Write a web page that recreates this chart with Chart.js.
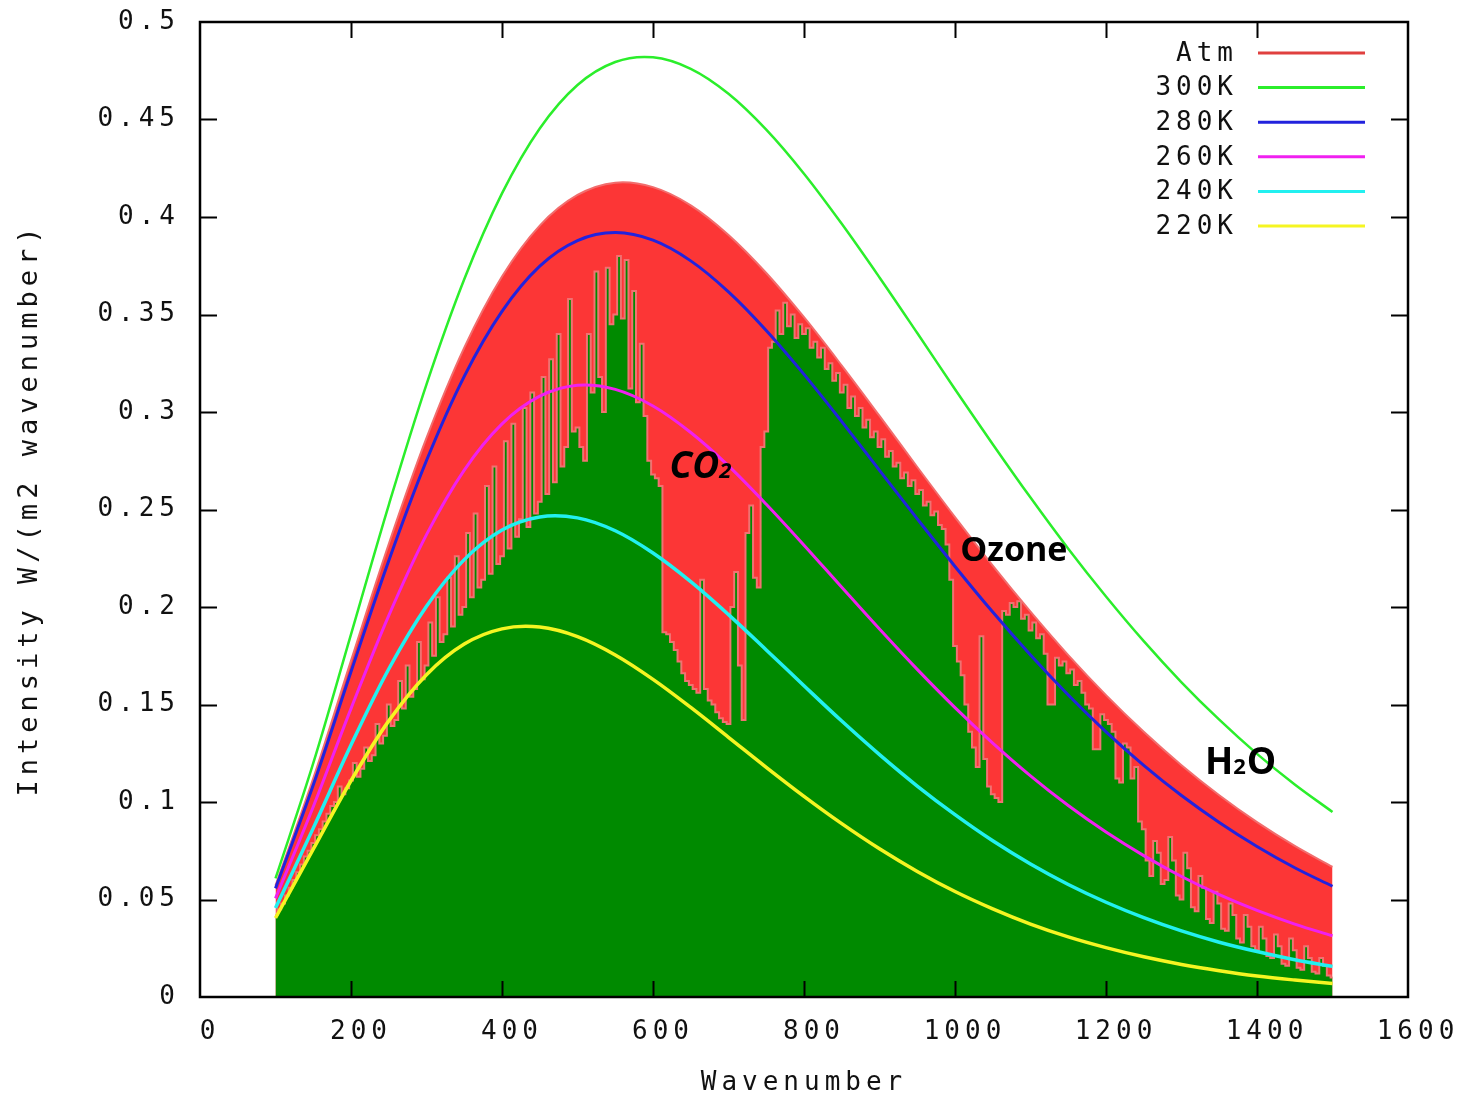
<!DOCTYPE html>
<html>
<head>
<meta charset="utf-8">
<script src="https://cdn.jsdelivr.net/npm/chart.js@4.4.1/dist/chart.umd.min.js"></script>
<style>
  html, body { margin: 0; padding: 0; background: #fff; }
  #wrap { width: 1466px; height: 1096px; }
</style>
</head>
<body>
<div id="wrap"><canvas id="spectrum-chart" width="1466" height="1096"></canvas></div>
<script>
//! wavenumber grid for the smooth curves (cm-1)
const wavenumber = [100,150,200,250,300,350,400,450,500,550,600,650,700,750,800,850,900,950,1000,1050,1100,1150,1200,1250,1300,1350,1400,1450,1500]

//! blackbody curves
const planck300 = [0.0608,0.1199,0.1860,0.2523,0.3142,0.3681,0.4121,0.4454,0.4677,0.4795,0.4819,0.4760,0.4632,0.4448,0.4222,0.3965,0.3690,0.3405,0.3117,0.2835,0.2561,0.2299,0.2054,0.1825,0.1614,0.1422,0.1247,0.1090,0.0949]
const planck280 = [0.0557,0.1087,0.1668,0.2237,0.2751,0.3183,0.3516,0.3748,0.3879,0.3920,0.3881,0.3775,0.3616,0.3418,0.3193,0.2951,0.2701,0.2452,0.2208,0.1974,0.1754,0.1549,0.1360,0.1188,0.1033,0.0895,0.0772,0.0663,0.0568]
const planck260 = [0.0506,0.0976,0.1479,0.1956,0.2371,0.2702,0.2939,0.3081,0.3137,0.3116,0.3031,0.2895,0.2724,0.2527,0.2317,0.2101,0.1887,0.1680,0.1484,0.1302,0.1134,0.0982,0.0846,0.0725,0.0618,0.0525,0.0444,0.0374,0.0314]
const planck240 = [0.0456,0.0866,0.1292,0.1682,0.2004,0.2243,0.2395,0.2462,0.2457,0.2391,0.2277,0.2130,0.1961,0.1780,0.1596,0.1415,0.1243,0.1082,0.0935,0.0801,0.0682,0.0577,0.0486,0.0407,0.0339,0.0281,0.0233,0.0191,0.0157]
const planck220 = [0.0405,0.0758,0.1109,0.1416,0.1653,0.1810,0.1888,0.1897,0.1848,0.1754,0.1629,0.1485,0.1332,0.1178,0.1029,0.0889,0.0760,0.0644,0.0541,0.0452,0.0374,0.0308,0.0253,0.0206,0.0167,0.0135,0.0108,0.0087,0.0069]

//! top of the red area (Atm)
const atmEnvelope = [0.0572,0.1121,0.1725,0.2323,0.2867,0.3330,0.3695,0.3956,0.4113,0.4176,0.4153,0.4060,0.3908,0.3713,0.3486,0.3238,0.2980,0.2718,0.2461,0.2212,0.1976,0.1753,0.1548,0.1360,0.1189,0.1035,0.0897,0.0775,0.0667]

//! green spectrum, every 5 cm-1
const spectrumWavenumber = [
  100,105,110,115,120,125,130,135,140,145,150,155,160,165,170,175,180,185,190,195,
  200,205,210,215,220,225,230,235,240,245,250,255,260,265,270,275,280,285,290,295,
  300,305,310,315,320,325,330,335,340,345,350,355,360,365,370,375,380,385,390,395,
  400,405,410,415,420,425,430,435,440,445,450,455,460,465,470,475,480,485,490,495,
  500,505,510,515,520,525,530,535,540,545,550,555,560,565,570,575,580,585,590,595,
  600,605,610,615,620,625,630,635,640,645,650,655,660,665,670,675,680,685,690,695,
  700,705,710,715,720,725,730,735,740,745,750,755,760,765,770,775,780,785,790,795,
  800,805,810,815,820,825,830,835,840,845,850,855,860,865,870,875,880,885,890,895,
  900,905,910,915,920,925,930,935,940,945,950,955,960,965,970,975,980,985,990,995,
  1000,1005,1010,1015,1020,1025,1030,1035,1040,1045,1050,1055,1060,1065,1070,1075,1080,1085,1090,1095,
  1100,1105,1110,1115,1120,1125,1130,1135,1140,1145,1150,1155,1160,1165,1170,1175,1180,1185,1190,1195,
  1200,1205,1210,1215,1220,1225,1230,1235,1240,1245,1250,1255,1260,1265,1270,1275,1280,1285,1290,1295,
  1300,1305,1310,1315,1320,1325,1330,1335,1340,1345,1350,1355,1360,1365,1370,1375,1380,1385,1390,1395,
  1400,1405,1410,1415,1420,1425,1430,1435,1440,1445,1450,1455,1460,1465,1470,1475,1480,1485,1490,1495,
  1500]
const spectrumValues = [
  0.042,0.045,0.048,0.052,0.056,0.060,0.064,0.068,0.072,0.075,0.079,0.083,0.086,0.090,0.094,0.098,0.100,0.108,0.104,0.107,
  0.111,0.120,0.113,0.117,0.128,0.121,0.124,0.140,0.130,0.134,0.150,0.139,0.142,0.162,0.148,0.170,0.154,0.158,0.182,0.163,
  0.170,0.192,0.175,0.205,0.182,0.186,0.215,0.190,0.226,0.196,0.200,0.238,0.205,0.248,0.210,0.214,0.262,0.217,0.272,0.222,
  0.226,0.285,0.230,0.294,0.236,0.245,0.302,0.241,0.310,0.248,0.254,0.318,0.258,0.327,0.264,0.340,0.272,0.282,0.358,0.290,
  0.292,0.282,0.275,0.340,0.310,0.372,0.318,0.300,0.374,0.345,0.350,0.380,0.348,0.378,0.312,0.362,0.305,0.335,0.298,0.275,
  0.268,0.266,0.262,0.187,0.186,0.182,0.178,0.172,0.166,0.162,0.160,0.158,0.156,0.214,0.158,0.152,0.150,0.146,0.143,0.141,
  0.140,0.200,0.218,0.170,0.142,0.238,0.252,0.215,0.210,0.282,0.290,0.333,0.336,0.352,0.340,0.356,0.344,0.350,0.338,0.345,
  0.340,0.343,0.333,0.336,0.328,0.333,0.322,0.325,0.316,0.320,0.310,0.314,0.302,0.308,0.298,0.302,0.292,0.296,0.287,0.290,
  0.282,0.286,0.277,0.280,0.272,0.274,0.266,0.269,0.262,0.265,0.258,0.260,0.252,0.254,0.247,0.249,0.242,0.240,0.232,0.214,
  0.180,0.172,0.165,0.150,0.136,0.128,0.118,0.185,0.122,0.108,0.104,0.102,0.100,0.198,0.196,0.202,0.200,0.203,0.194,0.196,
  0.188,0.192,0.184,0.186,0.176,0.150,0.150,0.174,0.170,0.172,0.166,0.168,0.160,0.162,0.156,0.150,0.148,0.127,0.127,0.145,
  0.142,0.140,0.136,0.112,0.110,0.130,0.128,0.112,0.118,0.090,0.086,0.070,0.062,0.080,0.074,0.058,0.060,0.082,0.070,0.052,
  0.050,0.074,0.066,0.046,0.044,0.062,0.056,0.040,0.038,0.054,0.048,0.035,0.034,0.048,0.042,0.030,0.028,0.042,0.036,0.026,
  0.024,0.036,0.030,0.021,0.020,0.032,0.026,0.017,0.016,0.030,0.024,0.015,0.014,0.026,0.020,0.013,0.012,0.020,0.016,0.011,
  0.010]

//! axis ticks
const xTicks = [0,200,400,600,800,1000,1200,1400,1600]
const yTicks = [0,0.05,0.1,0.15,0.2,0.25,0.3,0.35,0.4,0.45,0.5]

//! band labels: text parts [text, subscript], wavenumber, intensity
const bandText = [[['CO',0],['2',1]], [['Ozone',0]], [['H',0],['2',1],['O',0]]]
const bandX = [622, 1007, 1331]
const bandY = [0.266, 0.2235, 0.1145]

const MONO = '"DejaVu Sans Mono", "Liberation Mono", monospace'
const SPACING = '5px'

function pairs(xs, ys){
    return xs.map((x, i) => ({x, y: ys[i]}))
}

function planckLine(label, data, color, order, width = 3){
    return {
        label, data: pairs(wavenumber, data),
        borderColor: color, borderWidth: width, pointRadius: 0,
        fill: false, tension: 0.35, order
    }
}

//!dibuja marco, ticks hacia dentro, leyenda y etiquetas
const framePlugin = {
    id: 'frame',
    beforeUpdate(chart){ chart.ctx.letterSpacing = SPACING },
    beforeDraw(chart){
        const ctx = chart.ctx
        ctx.save()
        ctx.fillStyle = '#fff'
        ctx.fillRect(0, 0, chart.width, chart.height)
        ctx.restore()
        ctx.letterSpacing = SPACING
    },
    afterDatasetsDraw(chart){
        const ctx = chart.ctx
        const {left, right, top, bottom} = chart.chartArea
        const xs = chart.scales.x, ys = chart.scales.y
        ctx.save()
        ctx.strokeStyle = '#000'
        ctx.lineWidth = 2.5
        ctx.strokeRect(left, top, right - left, bottom - top)
        ctx.lineWidth = 2
        ctx.beginPath()
        xTicks.slice(1, -1).forEach(v => {
            const p = Math.round(xs.getPixelForValue(v)) + 0.5
            ctx.moveTo(p, bottom); ctx.lineTo(p, bottom - 16)
            ctx.moveTo(p, top); ctx.lineTo(p, top + 16)
        })
        yTicks.slice(1, -1).forEach(v => {
            const p = Math.round(ys.getPixelForValue(v)) + 0.5
            ctx.moveTo(left, p); ctx.lineTo(left + 17, p)
            ctx.moveTo(right, p); ctx.lineTo(right - 17, p)
        })
        ctx.stroke()

        // leyenda
        ctx.letterSpacing = SPACING
        ctx.font = '26px ' + MONO
        ctx.textAlign = 'right'
        ctx.textBaseline = 'middle'
        const items = chart.data.datasets.filter(d => d.label)
        items.forEach((d, i) => {
            const y = top + 31 + i * 34.6
            ctx.fillStyle = '#111'
            ctx.fillText(d.label, right - 170, y + 1)
            ctx.strokeStyle = d.legendColor || d.borderColor
            ctx.lineWidth = 3
            ctx.beginPath()
            ctx.moveTo(right - 150, y); ctx.lineTo(right - 43, y)
            ctx.stroke()
        })

        // etiquetas de bandas
        ctx.letterSpacing = '0px'
        ctx.textAlign = 'left'
        ctx.textBaseline = 'alphabetic'
        ctx.fillStyle = '#000'
        bandText.forEach((parts, i) => {
            let x = xs.getPixelForValue(bandX[i])
            const y = ys.getPixelForValue(bandY[i])
            const style = i === 0 ? 'italic bold ' : 'bold '
            const size = i === 1 ? 34 : 37
            parts.forEach(([t, sub]) => {
                ctx.font = style + (sub ? 22 : size) + 'px "Open Sans", "DejaVu Sans", sans-serif'
                ctx.fillText(t, x, y)
                x += ctx.measureText(t).width + (sub ? 1 : 0)
            })
        })
        ctx.restore()
        ctx.letterSpacing = SPACING
    }
}

const chartSpectrum = document.querySelector('#spectrum-chart').getContext('2d')
const myChart = new Chart(chartSpectrum, {
    type: 'line',
    data: {
        datasets: [
            {
                label: 'Atm', data: pairs(wavenumber, atmEnvelope),
                borderColor: '#f26d6d', borderWidth: 2, backgroundColor: '#fc3636',
                legendColor: '#e0403f',
                pointRadius: 0, fill: 'origin', tension: 0.35, order: 10
            },
            planckLine('300K', planck300, '#2bee2b', 1, 2.5),
            planckLine('280K', planck280, '#2222dd', 2),
            planckLine('260K', planck260, '#f020f0', 3),
            planckLine('240K', planck240, '#22f0f0', 4, 3.5),
            planckLine('220K', planck220, '#f5f522', 5, 3.5),
            {
                label: '', data: pairs(spectrumWavenumber, spectrumValues),
                borderColor: '#f07272', borderWidth: 2, backgroundColor: '#008a00',
                pointRadius: 0, fill: 'origin', stepped: 'middle', order: 9
            }
        ]
    },
    options: {
        responsive: false,
        animation: false,
        events: [],
        layout: { padding: { top: 22, right: 58, left: 0, bottom: 0 } },
        plugins: { legend: { display: false }, tooltip: { enabled: false } },
        scales: {
            x: {
                type: 'linear', min: 0, max: 1600,
                afterFit: s => { s.height = 99; s.paddingLeft = 0; s.paddingRight = 0 },
                afterBuildTicks: s => { s.ticks = xTicks.map(value => ({value})) },
                grid: { display: false, drawTicks: false },
                border: { display: false },
                ticks: { padding: 20, labelOffset: 10, color: '#111', font: { family: MONO, size: 26 },
                         maxRotation: 0, callback: v => String(v) },
                title: { display: true, text: 'Wavenumber', color: '#111',
                         font: { family: MONO, size: 26, lineHeight: 1 }, padding: { top: 0, bottom: 0 } }
            },
            y: {
                type: 'linear', min: 0, max: 0.5,
                afterFit: s => { s.width = 200; s.paddingTop = 0; s.paddingBottom = 0 },
                afterBuildTicks: s => { s.ticks = yTicks.map(value => ({value})) },
                grid: { display: false, drawTicks: false },
                border: { display: false },
                ticks: { padding: 20, color: '#111', font: { family: MONO, size: 26 },
                         callback: v => String(Number(v.toFixed(2))) },
                title: { display: true, text: 'Intensity W/(m2 wavenumber)', color: '#111',
                         font: { family: MONO, size: 27, lineHeight: 1 }, padding: { top: 16, bottom: 0 } }
            }
        }
    },
    plugins: [framePlugin]
})
</script>
</body>
</html>
